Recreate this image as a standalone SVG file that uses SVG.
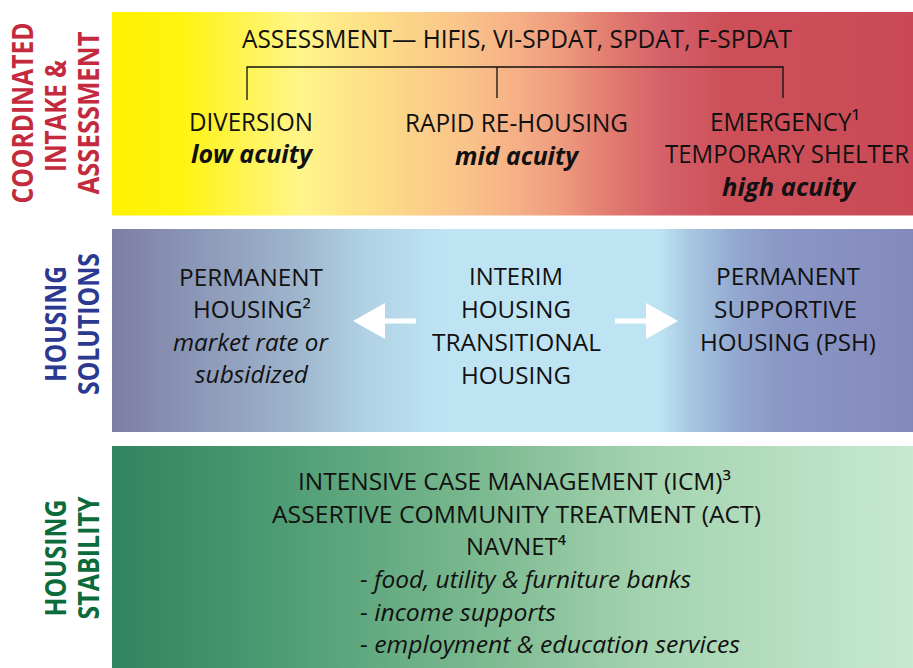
<svg xmlns="http://www.w3.org/2000/svg" width="913" height="668" viewBox="0 0 913 668">
  <defs>
    <linearGradient id="gradIntake" x1="112" y1="0" x2="913" y2="0" gradientUnits="userSpaceOnUse">
      <stop offset="0" stop-color="#FFF200"/>
      <stop offset="0.085" stop-color="#FFF310"/>
      <stop offset="0.235" stop-color="#FFF58A"/>
      <stop offset="0.33" stop-color="#FDDD88"/>
      <stop offset="0.447" stop-color="#F9C18A"/>
      <stop offset="0.51" stop-color="#F5AE85"/>
      <stop offset="0.562" stop-color="#EE9A7E"/>
      <stop offset="0.625" stop-color="#E07A6E"/>
      <stop offset="0.69" stop-color="#D4606A"/>
      <stop offset="0.765" stop-color="#CD5059"/>
      <stop offset="1" stop-color="#C94A56"/>
    </linearGradient>
    <linearGradient id="gradSolutions" x1="112" y1="0" x2="913" y2="0" gradientUnits="userSpaceOnUse">
      <stop offset="0" stop-color="#7E7EA2"/>
      <stop offset="0.096" stop-color="#8A95B5"/>
      <stop offset="0.223" stop-color="#9DB3CB"/>
      <stop offset="0.318" stop-color="#B0D2E4"/>
      <stop offset="0.414" stop-color="#BEE4F4"/>
      <stop offset="0.683" stop-color="#BEE4F4"/>
      <stop offset="0.72" stop-color="#A8C8E2"/>
      <stop offset="0.778" stop-color="#93A9D0"/>
      <stop offset="0.83" stop-color="#8A98C6"/>
      <stop offset="1" stop-color="#8489BC"/>
    </linearGradient>
    <linearGradient id="gradStability" x1="112" y1="0" x2="913" y2="0" gradientUnits="userSpaceOnUse">
      <stop offset="0" stop-color="#30845F"/>
      <stop offset="0.19" stop-color="#4A9A72"/>
      <stop offset="0.46" stop-color="#7BB98F"/>
      <stop offset="0.67" stop-color="#A4D3B0"/>
      <stop offset="1" stop-color="#C7E9CE"/>
    </linearGradient>
    <style>
      .t { font-family: "Open Sans", "Noto Sans", "DejaVu Sans", sans-serif; fill: #111; }
      .top { font-size: 25.5px; }
      .mid { font-size: 24.5px; }
      .bot { font-size: 23.5px; }
      .bi { font-weight: bold; font-style: italic; }
      .it { font-style: italic; }
      .side { font-family: "Open Sans", "Noto Sans", "DejaVu Sans", sans-serif; font-weight: bold; font-size: 28px; text-anchor: middle; }
      .red { fill: #C42A3D; }
      .blue { fill: #2B3990; }
      .green { fill: #0B6B3A; }
      .bracket { fill: none; stroke: #111; stroke-width: 1.3; }
      .arrow { fill: #FFFFFF; }
    </style>
  </defs>

  <rect width="913" height="668" fill="#FFFFFF"/>

  <!-- Coordinated intake & assessment band -->
  <g id="band-intake">
    <rect x="112" y="12" width="801" height="203.5" fill="url(#gradIntake)"/>
    <text class="side red" transform="translate(33,113) rotate(-90)" textLength="181" lengthAdjust="spacingAndGlyphs">COORDINATED</text>
    <text class="side red" transform="translate(66,116) rotate(-90)" textLength="112" lengthAdjust="spacingAndGlyphs">INTAKE &amp;</text>
    <text class="side red" transform="translate(99,113) rotate(-90)" textLength="163" lengthAdjust="spacingAndGlyphs">ASSESSMENT</text>
  </g>

  <g id="node-assessment">
    <text class="t top" x="242" y="48" textLength="550" lengthAdjust="spacingAndGlyphs">ASSESSMENT— HIFIS, VI-SPDAT, SPDAT, F-SPDAT</text>
  </g>

  <g id="node-diversion">
    <text class="t top" x="189" y="131" textLength="124" lengthAdjust="spacingAndGlyphs">DIVERSION</text>
    <text class="t top bi" x="191" y="163" textLength="121" lengthAdjust="spacingAndGlyphs">low acuity</text>
  </g>

  <g id="node-rapid-rehousing">
    <text class="t top" x="405" y="132" textLength="223" lengthAdjust="spacingAndGlyphs">RAPID RE-HOUSING</text>
    <text class="t top bi" x="455" y="165" textLength="123" lengthAdjust="spacingAndGlyphs">mid acuity</text>
  </g>

  <g id="node-emergency-shelter">
    <text class="t top" x="710" y="131" textLength="150" lengthAdjust="spacingAndGlyphs">EMERGENCY¹</text>
    <text class="t top" x="665" y="163" textLength="244" lengthAdjust="spacingAndGlyphs">TEMPORARY SHELTER</text>
    <text class="t top bi" x="722" y="196" textLength="133" lengthAdjust="spacingAndGlyphs">high acuity</text>
  </g>

  <!-- Housing solutions band -->
  <g id="band-solutions">
    <rect x="112" y="229" width="801" height="203" fill="url(#gradSolutions)"/>
    <text class="side blue" transform="translate(66,324) rotate(-90)" textLength="116" lengthAdjust="spacingAndGlyphs">HOUSING</text>
    <text class="side blue" transform="translate(99,324) rotate(-90)" textLength="142" lengthAdjust="spacingAndGlyphs">SOLUTIONS</text>
  </g>

  <g id="node-permanent-housing">
    <text class="t mid" x="179" y="286" textLength="144" lengthAdjust="spacingAndGlyphs">PERMANENT</text>
    <text class="t mid" x="193" y="318" textLength="118" lengthAdjust="spacingAndGlyphs">HOUSING²</text>
    <text class="t mid it" x="173" y="351" textLength="155" lengthAdjust="spacingAndGlyphs">market rate or</text>
    <text class="t mid it" x="195" y="383" textLength="113" lengthAdjust="spacingAndGlyphs">subsidized</text>
  </g>

  <g id="node-interim-housing">
    <text class="t mid" x="469" y="285" textLength="94" lengthAdjust="spacingAndGlyphs">INTERIM</text>
    <text class="t mid" x="461" y="318" textLength="110" lengthAdjust="spacingAndGlyphs">HOUSING</text>
    <text class="t mid" x="432" y="351" textLength="169" lengthAdjust="spacingAndGlyphs">TRANSITIONAL</text>
    <text class="t mid" x="461" y="384" textLength="110" lengthAdjust="spacingAndGlyphs">HOUSING</text>
  </g>

  <g id="node-supportive-housing">
    <text class="t mid" x="716" y="285" textLength="144" lengthAdjust="spacingAndGlyphs">PERMANENT</text>
    <text class="t mid" x="714" y="318" textLength="143" lengthAdjust="spacingAndGlyphs">SUPPORTIVE</text>
    <text class="t mid" x="700" y="351" textLength="176" lengthAdjust="spacingAndGlyphs">HOUSING (PSH)</text>
  </g>

  <!-- Housing stability band -->
  <g id="band-stability">
    <rect x="112" y="446" width="801" height="222" fill="url(#gradStability)"/>
    <text class="side green" transform="translate(66,558) rotate(-90)" textLength="117" lengthAdjust="spacingAndGlyphs">HOUSING</text>
    <text class="side green" transform="translate(99,558) rotate(-90)" textLength="123" lengthAdjust="spacingAndGlyphs">STABILITY</text>
  </g>

  <g id="node-stability-services">
    <text class="t bot" x="298" y="490" textLength="433" lengthAdjust="spacingAndGlyphs">INTENSIVE CASE MANAGEMENT (ICM)³</text>
    <text class="t bot" x="272" y="522.5" textLength="489" lengthAdjust="spacingAndGlyphs">ASSERTIVE COMMUNITY TREATMENT (ACT)</text>
    <text class="t bot" x="466" y="555" textLength="100" lengthAdjust="spacingAndGlyphs">NAVNET⁴</text>
    <text class="t bot it" x="360" y="588" textLength="331" lengthAdjust="spacingAndGlyphs">- food, utility &amp; furniture banks</text>
    <text class="t bot it" x="360" y="620.5" textLength="196" lengthAdjust="spacingAndGlyphs">- income supports</text>
    <text class="t bot it" x="360" y="653" textLength="380" lengthAdjust="spacingAndGlyphs">- employment &amp; education services</text>
  </g>

  <!-- Connectors: assessment bracket and housing-pathway arrows -->
  <g id="connectors">
    <path class="bracket" d="M247 100 V67 H783 V98 M497 67 V98"/>
    <polygon class="arrow" points="353,321 385,303 385,318.5 416,318.5 416,323.5 385,323.5 385,339"/>
    <polygon class="arrow" points="678,321 646,303 646,318.5 615,318.5 615,323.5 646,323.5 646,339"/>
  </g>
</svg>
